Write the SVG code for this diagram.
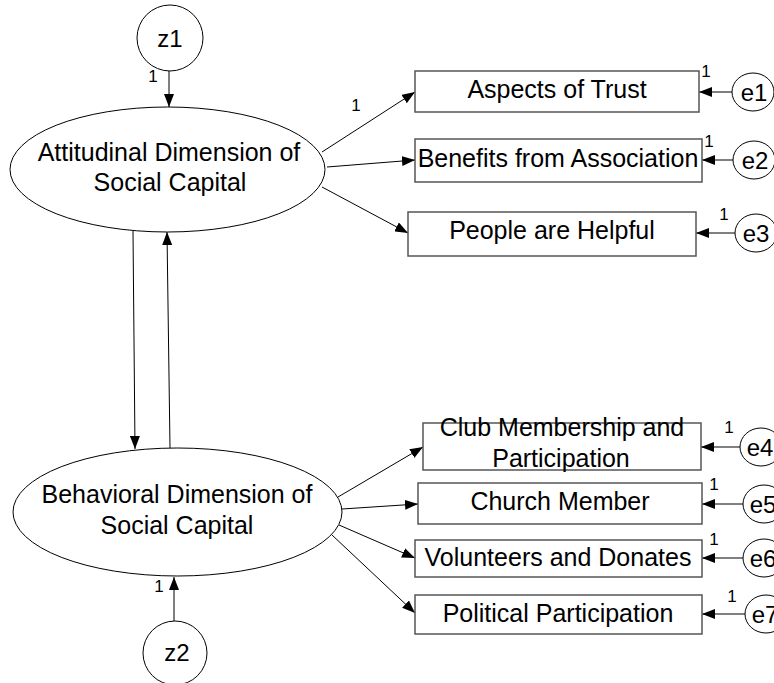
<svg xmlns="http://www.w3.org/2000/svg" width="774" height="683" viewBox="0 0 774 683">
<style>
text{font-family:"Liberation Sans",Arial,sans-serif;fill:#000}
.lbl{font-size:25px;text-anchor:middle}
.sm{font-size:24px;text-anchor:middle}
.one{font-size:17px;text-anchor:middle}
.box{fill:#fff;stroke:#555;stroke-width:1.5}
.lat{fill:#fff;stroke:#000;stroke-width:1}
.c{stroke:#000;stroke-width:1;fill:none;marker-end:url(#ah)}
</style>
<defs>
<marker id="ah" markerUnits="userSpaceOnUse" markerWidth="14" markerHeight="10" refX="13" refY="5" orient="auto">
<path d="M0,0 L13,5 L0,10 Z" fill="#000"/>
</marker>
</defs>
<rect width="774" height="683" fill="#fff"/>
<g id="connectors">
<line class="c" x1="169" y1="71" x2="169" y2="107"/>
<line class="c" x1="174" y1="621" x2="174" y2="577"/>
<line class="c" x1="133" y1="231" x2="135" y2="449"/>
<line class="c" x1="170" y1="448" x2="167" y2="232"/>
<line class="c" x1="322" y1="152" x2="415" y2="92"/>
<line class="c" x1="327" y1="167" x2="415" y2="160"/>
<line class="c" x1="322" y1="187" x2="408" y2="233"/>
<line class="c" x1="338" y1="497" x2="423" y2="447"/>
<line class="c" x1="342" y1="509" x2="418" y2="504"/>
<line class="c" x1="339" y1="525" x2="415" y2="558"/>
<line class="c" x1="332" y1="535" x2="415" y2="613"/>
<line class="c" x1="732" y1="92" x2="699" y2="92"/>
<line class="c" x1="733" y1="160" x2="702" y2="160"/>
<line class="c" x1="735" y1="233" x2="696" y2="233"/>
<line class="c" x1="740" y1="447" x2="701" y2="447"/>
<line class="c" x1="743" y1="504" x2="702" y2="504"/>
<line class="c" x1="743" y1="558" x2="702" y2="558"/>
<line class="c" x1="745" y1="614" x2="702" y2="614"/>
<text class="one" x="153" y="82">1</text>
<text class="one" x="159" y="592">1</text>
<text class="one" x="356" y="111">1</text>
<text class="one" x="706" y="77">1</text>
<text class="one" x="709" y="147">1</text>
<text class="one" x="724" y="220">1</text>
<text class="one" x="729" y="433">1</text>
<text class="one" x="714" y="490">1</text>
<text class="one" x="714" y="545">1</text>
<text class="one" x="732" y="602">1</text>
</g>
<g id="z1"><circle class="lat" cx="170" cy="38" r="33"/><text class="sm" x="170" y="47">z1</text></g>
<g id="z2"><circle class="lat" cx="175" cy="653" r="32"/><text class="sm" x="177" y="661">z2</text></g>
<g id="attitudinal"><ellipse class="lat" cx="167.5" cy="169.5" rx="157.5" ry="62.5"/>
<text class="lbl" x="169" y="161">Attitudinal Dimension of</text>
<text class="lbl" x="170" y="191">Social Capital</text></g>
<g id="behavioral"><ellipse class="lat" cx="177.5" cy="512" rx="164.5" ry="64"/>
<text class="lbl" x="177" y="503">Behavioral Dimension of</text>
<text class="lbl" x="177" y="534">Social Capital</text></g>
<g id="trust"><rect class="box" x="415" y="71" width="284" height="41"/><text class="lbl" x="557" y="98">Aspects of Trust</text></g>
<g id="benefits"><rect class="box" x="415" y="139" width="287" height="43"/><text class="lbl" x="558" y="167">Benefits from Association</text></g>
<g id="helpful"><rect class="box" x="408" y="212" width="288" height="44"/><text class="lbl" x="552" y="239">People are Helpful</text></g>
<g id="club"><rect class="box" x="423" y="423" width="278" height="47"/><text class="lbl" x="562" y="436">Club Membership and</text><text class="lbl" x="561" y="467">Participation</text></g>
<g id="church"><rect class="box" x="418" y="483" width="284" height="41"/><text class="lbl" x="560" y="510">Church Member</text></g>
<g id="volunteers"><rect class="box" x="415" y="540" width="287" height="37"/><text class="lbl" x="558" y="566">Volunteers and Donates</text></g>
<g id="political"><rect class="box" x="415" y="595" width="287" height="39"/><text class="lbl" x="558" y="622">Political Participation</text></g>
<g id="e1"><ellipse class="lat" cx="753" cy="92" rx="21" ry="19"/><text class="sm" x="754" y="101">e1</text></g>
<g id="e2"><ellipse class="lat" cx="754" cy="160" rx="21" ry="19"/><text class="sm" x="755" y="169">e2</text></g>
<g id="e3"><ellipse class="lat" cx="756" cy="233" rx="21" ry="19"/><text class="sm" x="756" y="242">e3</text></g>
<g id="e4"><ellipse class="lat" cx="761" cy="447" rx="21" ry="19"/><text class="sm" x="760" y="456">e4</text></g>
<g id="e5"><ellipse class="lat" cx="764" cy="504" rx="21" ry="19"/><text class="sm" x="763" y="513">e5</text></g>
<g id="e6"><ellipse class="lat" cx="764" cy="558" rx="21" ry="19"/><text class="sm" x="763" y="567">e6</text></g>
<g id="e7"><ellipse class="lat" cx="766" cy="614" rx="21" ry="19"/><text class="sm" x="765" y="623">e7</text></g>
</svg>
